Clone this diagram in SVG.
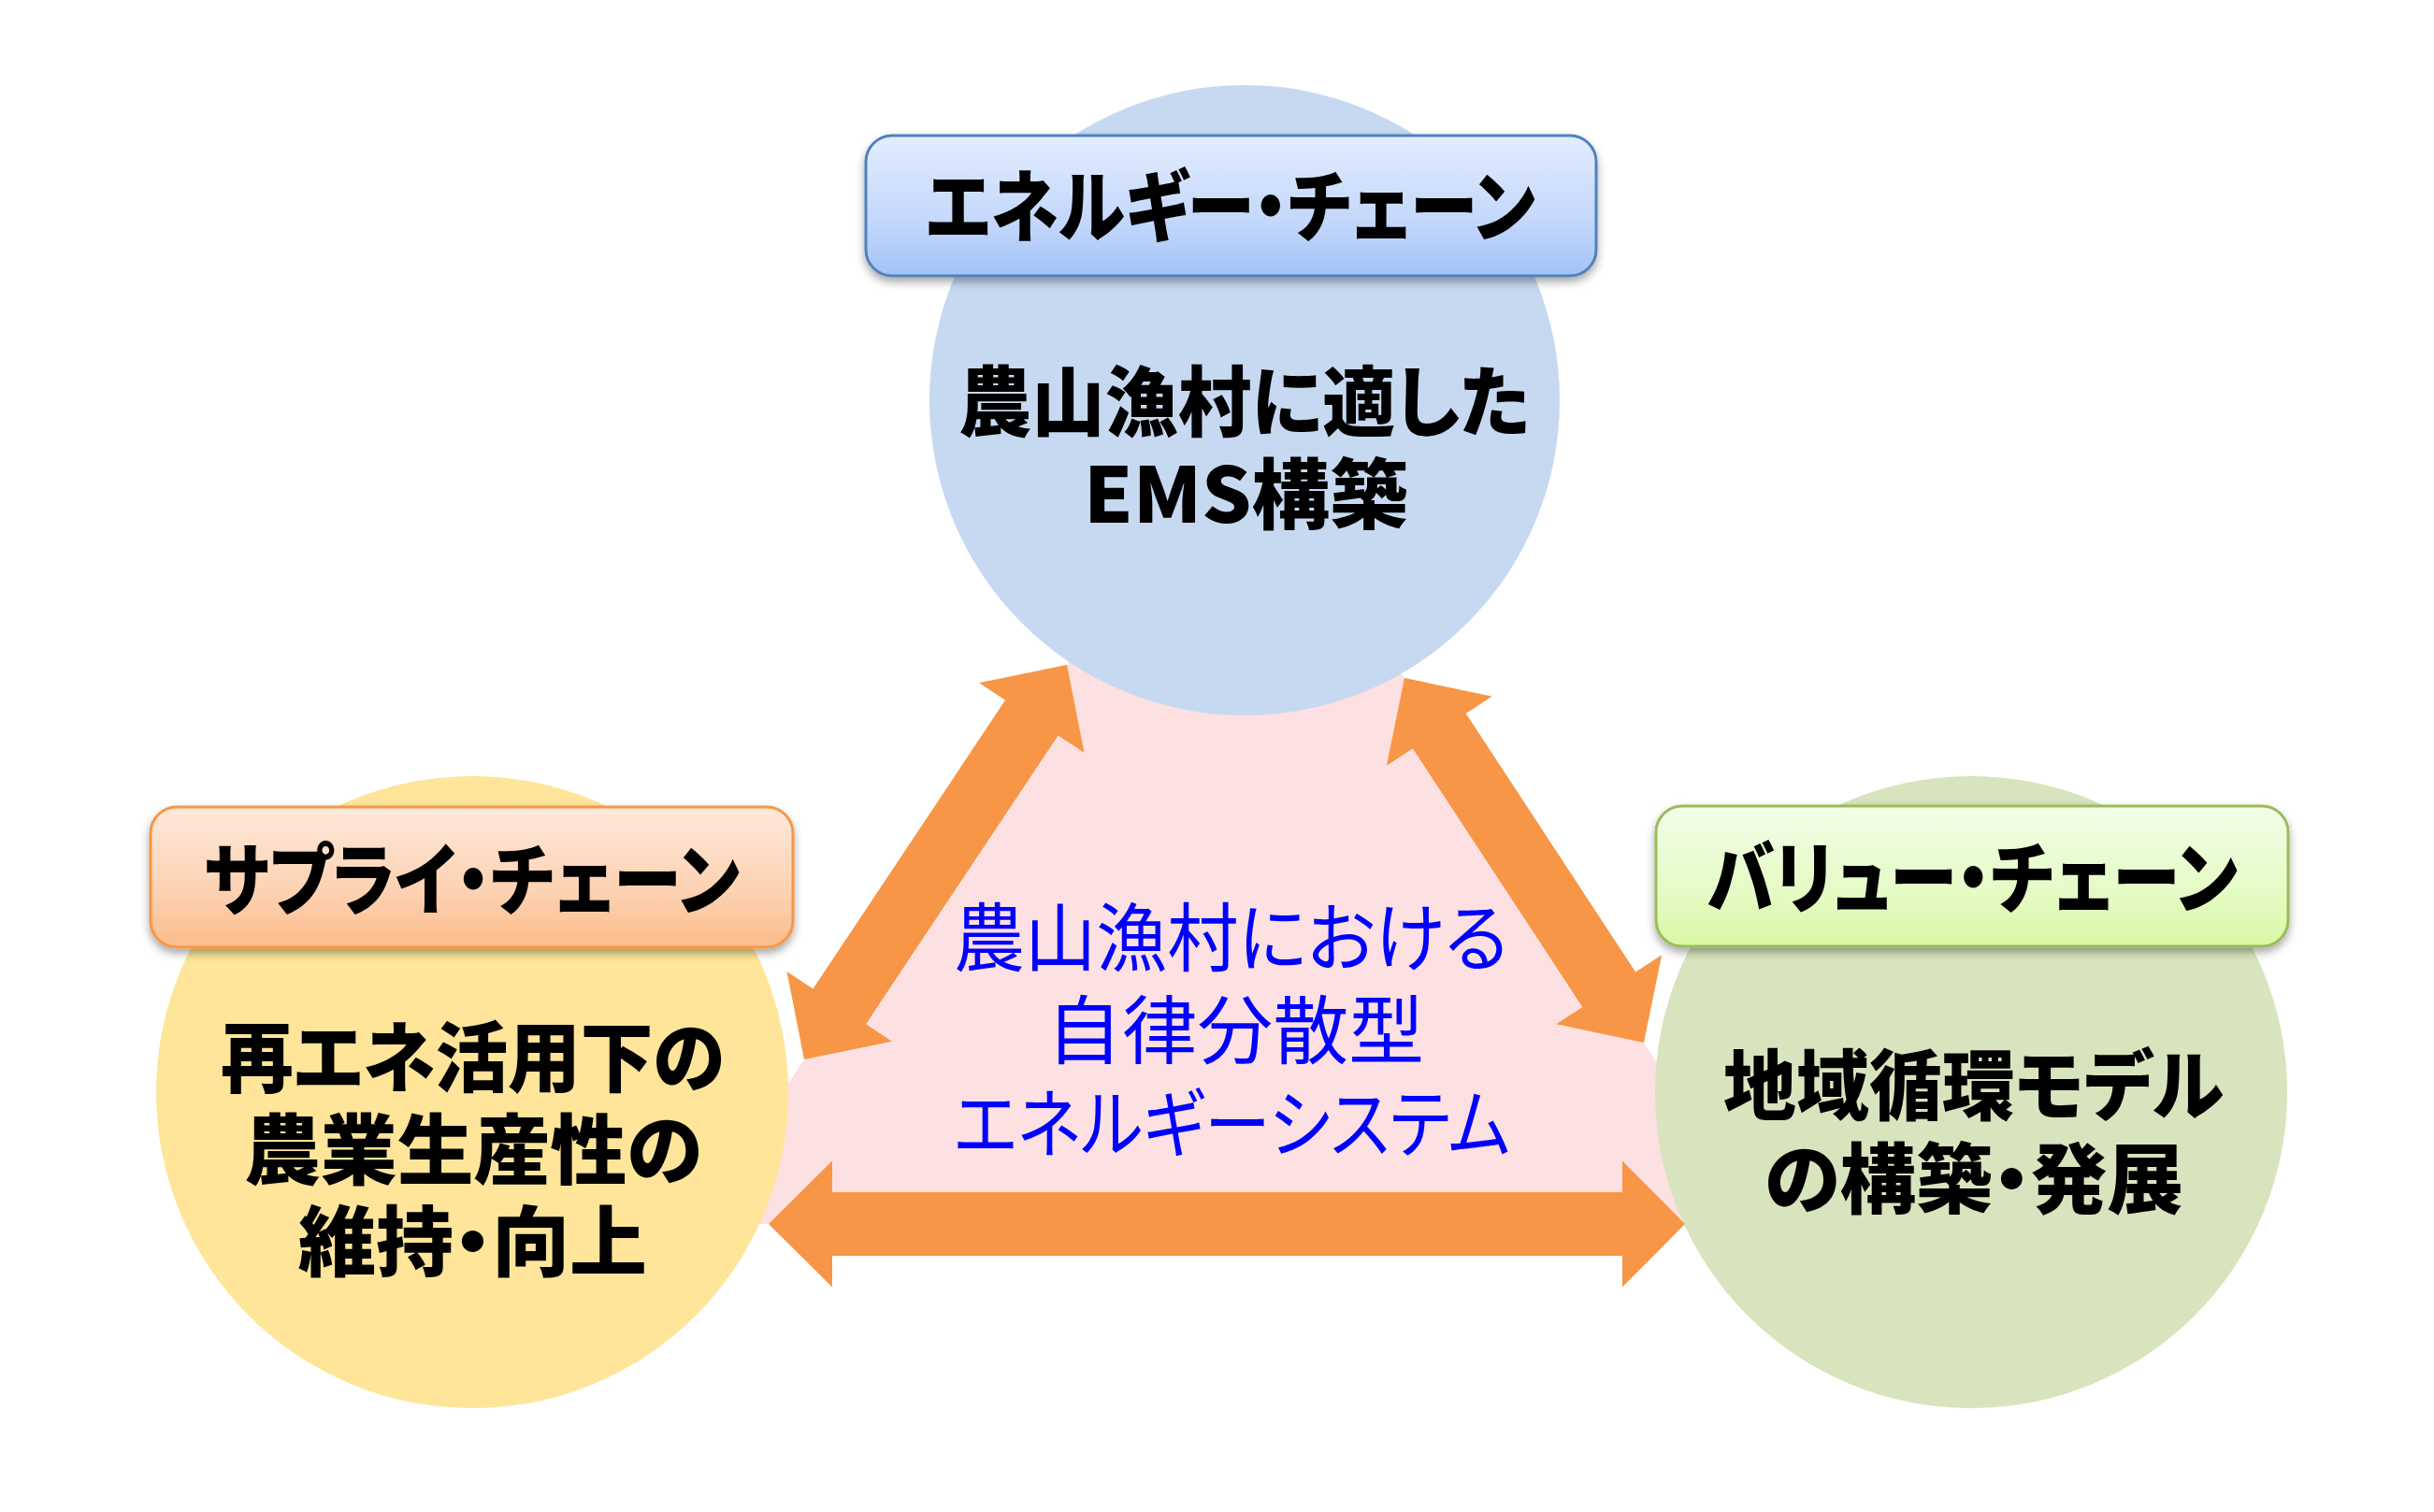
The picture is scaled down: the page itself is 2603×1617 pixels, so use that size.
<svg xmlns="http://www.w3.org/2000/svg" width="2603" height="1617" viewBox="0 0 2603 1617">
<style>
text{font-family:"Noto Sans CJK JP","Noto Sans",sans-serif;font-feature-settings:"palt";}
.b{font-weight:900;fill:#000;font-size:82px;}
.h{font-weight:900;fill:#000;font-size:84px;}
.c{font-weight:400;fill:#0000FF;font-size:80px;}
.arrow{fill:#F79646;}
</style>
<defs>
<linearGradient id="gBlue" x1="0" y1="0" x2="0" y2="1">
<stop offset="0" stop-color="#E3EDFE"/><stop offset="0.6" stop-color="#C4D8FB"/><stop offset="1" stop-color="#A3C3F7"/>
</linearGradient>
<linearGradient id="gOrange" x1="0" y1="0" x2="0" y2="1">
<stop offset="0" stop-color="#FEE9DB"/><stop offset="0.6" stop-color="#FDD2B2"/><stop offset="1" stop-color="#FBBC8A"/>
</linearGradient>
<linearGradient id="gGreen" x1="0" y1="0" x2="0" y2="1">
<stop offset="0" stop-color="#F3FDE8"/><stop offset="0.6" stop-color="#E5FBC6"/><stop offset="1" stop-color="#D9F8A4"/>
</linearGradient>
<filter id="sh" x="-10%" y="-20%" width="120%" height="150%">
<feDropShadow dx="0" dy="5" stdDeviation="5" flood-color="#000" flood-opacity="0.35"/>
</filter>
</defs>
<rect width="2603" height="1617" fill="#FFFFFF"/>
<polygon id="background-triangle" points="1318,445 743,1309 1885,1309" fill="#FDE0E1"/>
<g id="node-energy">
<circle cx="1331" cy="428" r="337" fill="#C6D9F1"/>
<rect x="926" y="145" width="781" height="150" rx="28" fill="url(#gBlue)" stroke="#4F81BD" stroke-width="3" filter="url(#sh)"/>
<text class="h" x="990" y="252" textLength="652" lengthAdjust="spacingAndGlyphs">エネルギー・チェーン</text>
<text class="b" x="1025" y="460" textLength="611" lengthAdjust="spacingAndGlyphs">農山漁村に適した</text>
<text class="b" x="1159" y="559" textLength="347" lengthAdjust="spacingAndGlyphs">EMS構築</text>
</g>
<g id="node-supply">
<circle cx="505" cy="1168" r="338" fill="#FFE599"/>
<rect x="161" y="863" width="687" height="150" rx="28" fill="url(#gOrange)" stroke="#F79646" stroke-width="3" filter="url(#sh)"/>
<text class="h" x="218" y="972" textLength="573" lengthAdjust="spacingAndGlyphs">サプライ・チェーン</text>
<text class="b" x="236" y="1161" textLength="539" lengthAdjust="spacingAndGlyphs">再エネ活用下の</text>
<text class="b" x="261" y="1260" textLength="490" lengthAdjust="spacingAndGlyphs">農業生産性の</text>
<text class="b" x="319" y="1358" textLength="373" lengthAdjust="spacingAndGlyphs">維持・向上</text>
</g>
<g id="node-value">
<circle cx="2108" cy="1168" r="338" fill="#D7E4BD"/>
<rect x="1771" y="862" width="676" height="150" rx="28" fill="url(#gGreen)" stroke="#9BBB59" stroke-width="3" filter="url(#sh)"/>
<text class="h" x="1826" y="970" textLength="567" lengthAdjust="spacingAndGlyphs">バリュー・チェーン</text>
<text class="b" x="1843" y="1191" textLength="535" lengthAdjust="spacingAndGlyphs">地域循環モデル</text>
<text class="b" x="1887" y="1291" textLength="448" lengthAdjust="spacingAndGlyphs">の構築・発展</text>
</g>
<g id="node-center">
<text class="c" x="1020" y="1032" textLength="593" lengthAdjust="spacingAndGlyphs">農山漁村における</text>
<text class="c" x="1119" y="1131" textLength="404" lengthAdjust="spacingAndGlyphs">自律分散型</text>
<text class="c" x="1020" y="1231" textLength="595" lengthAdjust="spacingAndGlyphs">エネルギーシステム</text>
</g>
<g id="connectors">
<polygon class="arrow" points="822,1309 890,1241.5 890,1275 1735,1275 1735,1241.5 1802,1309 1735,1376.5 1735,1343 890,1343 890,1376.5"/>
<polygon class="arrow" points="1141,711 1159.5,805 1131.6,786.4 926,1095.2 953.9,1113.8 860,1133 841.5,1039 869.4,1057.6 1075,748.8 1047.1,730.2"/>
<polygon class="arrow" points="1502,725 1595.7,744.8 1567.7,763.1 1749.1,1039.5 1777.1,1021.2 1758,1115 1664.3,1095.2 1692.3,1076.9 1510.9,800.5 1482.9,818.8"/>
</g>
</svg>
